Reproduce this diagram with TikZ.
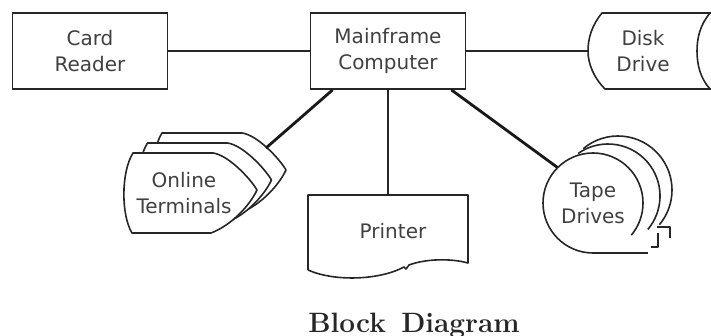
\documentclass[tikz,border=0pt]{standalone}
\usepackage{fontspec}
\setsansfont{DejaVu Sans}
\begin{document}
\begin{tikzpicture}[x=1pt,y=-1pt,
    txt/.style={align=center,text=black!75,font=\sffamily\fontsize{20}{26}\selectfont},
    box/.style={txt,draw=black!85,line width=1.8pt,minimum width=155pt,minimum height=76pt},
    shp/.style={draw=black!85,line width=1.6pt,line join=round},
    conn/.style={draw=black!85,line width=1.4pt},
    thickconn/.style={draw=black!90,line width=2.8pt}]
  \useasboundingbox (0,0) rectangle (711,336);
  % boxes
  \node[box] (reader) at (90,51) {Card\\Reader};
  \node[box] (main) at (388,51) {Mainframe\\Computer};
  % disk drive
  \draw[shp] (715,13) -- (602,13) .. controls (592,25) and (588,38) .. (588,51)
    .. controls (588,64) and (594,78) .. (605,89) -- (715,89);
  \draw[shp] (710,13) .. controls (700,25) and (697,38) .. (697,51)
    .. controls (697,64) and (700,78) .. (710,89);
  \node[txt,minimum width=110pt] (disk) at (643,51) {Disk\\Drive};
  % online terminals
  \foreach \s in {2,1,0}
    \draw[shp,fill=white,shift={({14.5*\s},{-10*\s})}] (133,153) -- (213,153)
      .. controls (228,155) and (250,178) .. (257,190)
      .. controls (250,205) and (232,225) .. (211,233) -- (132,233)
      .. controls (121,215) and (121,172) .. (133,153) -- cycle;
  \node[txt] (term) at (184,193) {Online\\Terminals};
  \coordinate (term-link) at (266,148);
  % printer
  \draw[shp] (308,270) -- (308,195) -- (468,195) -- (468,263)
    .. controls (450,258) and (425,259) .. (409,265) -- (406,269) -- (404,267)
    .. controls (380,280) and (335,282) .. (308,270);
  \node[txt] (printer) at (393,231) {Printer};
  \coordinate (printer-top) at (388,195);
  % tape drives
  \draw[shp] (618,190) ++(230:54) arc[start angle=230,end angle=400,radius=54];
  \draw[shp] (608,196) ++(235:52) arc[start angle=235,end angle=400,radius=52];
  \draw[shp] (593,253) arc[start angle=90,end angle=400,radius=50];
  \draw[shp] (593,253) -- (648,253);
  \draw[shp] (657,227) -- (670,227) -- (670,238);
  \draw[shp] (658,233) -- (658,247) -- (651,247);
  \node[txt,circle,minimum size=100pt,inner sep=0pt] (tape) at (593,203) {Tape\\Drives};
  % connectors
  \draw[conn] (reader) -- (main);
  \draw[conn] (main.east) -- (disk.west);
  \draw[conn] (main.south) -- (printer-top);
  \draw[thickconn] ([xshift=23pt]main.south west) -- (term-link);
  \draw[thickconn] ([xshift=-15pt]main.south east) -- (tape.135);
  % caption
  \node[anchor=base,text=black!85,font=\bfseries\fontsize{28}{30}\selectfont] (caption)
    at (414,332) {Block\hspace{0.55em}Diagram};
\end{tikzpicture}
\end{document}
